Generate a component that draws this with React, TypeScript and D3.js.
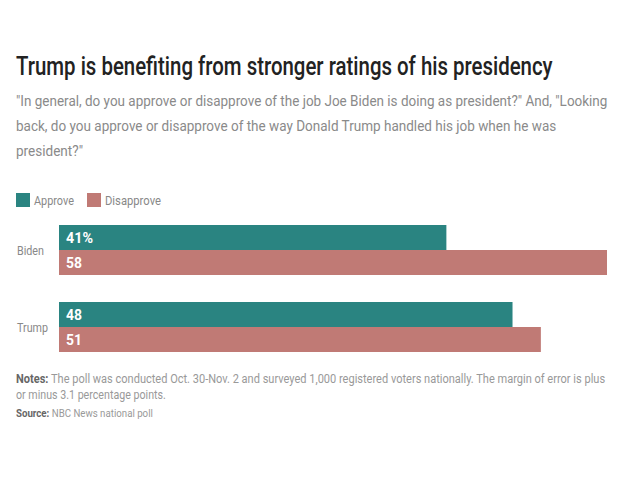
import React from "react";
import * as d3 from "d3";

const categories = ["Biden", "Trump"];
const seriesNames = ["Approve", "Disapprove"];
const approveValues = [41, 48];
const disapproveValues = [58, 51];
const valueLabels = [["41%", "58"], ["48", "51"]];

const titleText = "Trump is benefiting from stronger ratings of his presidency";
const subtitleLines = [
  "\"In general, do you approve or disapprove of the job Joe Biden is doing as president?\" And, \"Looking",
  "back, do you approve or disapprove of the way Donald Trump handled his job when he was",
  "president?\"",
];
const notesLines = [
  "The poll was conducted Oct. 30-Nov. 2 and surveyed 1,000 registered voters nationally. The margin of error is plus",
  "or minus 3.1 percentage points.",
];
const sourceText = "NBC News national poll";

const COLORS = ["#2a8481", "#c07a75"];
const FAMILY = "Roboto";
const FONT = "Roboto, 'Liberation Sans', sans-serif";

let ctx: CanvasRenderingContext2D | null = null;
function measure(text: string, size: number, weight: number): number {
  if (!ctx) ctx = document.createElement("canvas").getContext("2d");
  if (!ctx) return text.length * size * 0.5;
  ctx.font = `${weight} ${size}px ${FAMILY}`;
  return ctx.measureText(text).width;
}

type Seg = { t: string; w?: number; fill?: string };
function CondText({ x, y, size, target, segs, fill }: { x: number; y: number; size: number; target: number; segs: Seg[]; fill: string }) {
  const natural = segs.reduce((a, s) => a + measure(s.t, size, s.w ?? 400), 0);
  const sx = target / natural;
  return (
    <g transform={`translate(${x},${y}) scale(${sx},1)`}>
      <text x={0} y={0} fontFamily={FONT} fontSize={size} fill={fill}>
        {segs.map((s, i) => (
          <tspan key={i} fontWeight={s.w ?? 400} fill={s.fill ?? fill}>{s.t}</tspan>
        ))}
      </text>
    </g>
  );
}

export default function App() {
  const width = 640;
  const height = 480;
  const x = d3.scaleLinear().domain([0, 58]).range([59, 607]);
  const yGroup = d3.scaleBand().domain(categories).range([225, 352]).paddingInner(27 / 77).paddingOuter(0);
  const ySub = d3.scaleBand().domain(seriesNames).range([0, yGroup.bandwidth()]);
  const values = [approveValues, disapproveValues];

  return (
    <svg width={width} height={height} style={{ position: "absolute", left: 0, top: 0, background: "#fff" }}>
      <rect width={width} height={height} fill="#fff" />
      <CondText x={16} y={75} size={25} target={537} fill="#222" segs={[{ t: titleText, w: 500 }]} />
      {subtitleLines.map((l, i) => (
        <CondText key={i} x={16} y={106 + i * 25} size={15.5} target={[592, 541, 67][i]} fill="#8a8a8a" segs={[{ t: l }]} />
      ))}
      {seriesNames.map((s, i) => {
        const lx = [16, 87][i];
        return (
          <g key={s}>
            <rect x={lx} y={193} width={14} height={14} fill={COLORS[i]} />
            <CondText x={lx + 18} y={205} size={13} target={[40, 56][i]} fill="#888" segs={[{ t: s }]} />
          </g>
        );
      })}
      {categories.map((c, ci) => {
        const gy = yGroup(c)!;
        return (
          <g key={c}>
            <CondText x={17} y={gy + yGroup.bandwidth() / 2 + 5} size={13} target={[27, 31][ci]} fill="#888" segs={[{ t: c }]} />
            {seriesNames.map((s, si) => {
              const v = values[si][ci];
              const by = gy + ySub(s)!;
              const lbl = valueLabels[ci][si];
              return (
                <g key={s}>
                  <rect x={x(0)} y={by} width={x(v) - x(0)} height={ySub.bandwidth()} fill={COLORS[si]} />
                  <CondText x={66} y={by + ySub.bandwidth() / 2 + 5} size={14.5} target={lbl.length === 3 ? 27 : 16} fill="#fff" segs={[{ t: lbl, w: 700 }]} />
                </g>
              );
            })}
          </g>
        );
      })}
      <CondText x={16} y={383} size={12.5} target={590} fill="#999"
        segs={[{ t: "Notes:", w: 700, fill: "#666" }, { t: " " + notesLines[0] }]} />
      <CondText x={16} y={399} size={12.5} target={150} fill="#999" segs={[{ t: notesLines[1] }]} />
      <CondText x={16} y={417} size={11.5} target={137} fill="#999"
        segs={[{ t: "Source:", w: 700, fill: "#666" }, { t: " " + sourceText }]} />
    </svg>
  );
}
